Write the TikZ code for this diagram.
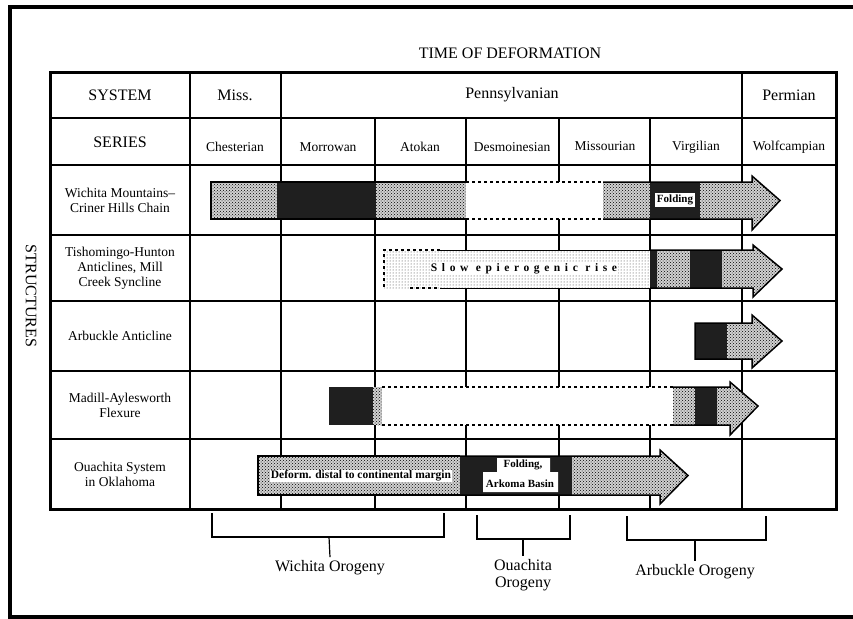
\documentclass[tikz,border=0pt]{standalone}
\usepackage{fontspec}
\setmainfont{Liberation Serif}
\usetikzlibrary{patterns}

\begin{document}
\begin{tikzpicture}[x=1pt, y=-1pt,
	hd/.style={font=\fontsize{16}{17}\selectfont},
	ser/.style={font=\fontsize{13.5}{14}\selectfont},
	struct/.style={align=center, font=\fontsize{13.5}{15}\selectfont},
	tag/.style={font=\bfseries\fontsize{11}{12}\selectfont, inner sep=1.5pt},
	grid/.style={line width=1.3pt},
	bar/.style={line width=1.5pt},
	stip/.style={preaction={fill=black!18}, pattern=crosshatch dots, pattern color=black},
	blk/.style={fill=black!88},
	brace/.style={line width=1.2pt}]
	\useasboundingbox (0,0) rectangle (853,618);
	\draw[line width=4pt] (853,7) -- (10,7) -- (10,617) -- (853,617);
	
	\node[hd] (title) at (510,53) {TIME OF DEFORMATION};
	\node[hd, rotate=-90] (structures) at (31,296) {STRUCTURES};
	
	\draw[grid] (50,118) -- (836,118) (50,165) -- (836,165)
	(50,235) -- (836,235) (50,301) -- (836,301) (50,371) -- (836,371) (50,439) -- (836,439)
	(190,72) -- (190,509) (281,72) -- (281,509) (742,72) -- (742,509)
	(375,118) -- (375,509) (466,118) -- (466,509) (559,118) -- (559,509) (650,118) -- (650,509);
	\draw[line width=3pt] (50,72) rectangle (836,509);
	
	\node[hd] (system) at (120,95) {SYSTEM};
	\node[hd] (miss) at (235,95) {Miss.};
	\node[hd] (penn) at (512,95) {Pennsylvanian};
	\node[hd] (perm) at (789,95) {Permian};
	\node[hd] (series) at (120,142) {SERIES};
	\node[ser] (chest) at (235,147) {Chesterian};
	\node[ser] (morrow) at (328,147) {Morrowan};
	\node[ser] (atok) at (420,147) {Atokan};
	\node[ser] (desm) at (512,147) {Desmoinesian};
	\node[ser] (missour) at (605,146) {Missourian};
	\node[ser] (virg) at (696,147) {Virgilian};
	\node[ser] (wolf) at (789,147) {Wolfcampian};
	
	\node[struct] (wichita) at (120,200) {Wichita Mountains--\\Criner Hills Chain};
	\node[struct] (tisho) at (120,268) {Tishomingo-Hunton\\Anticlines, Mill\\Creek Syncline};
	\node[struct] (arbuckle) at (120,336) {Arbuckle Anticline};
	\node[struct] (madill) at (120,405) {Madill-Aylesworth\\Flexure};
	\node[struct] (ouachita) at (120,474) {Ouachita System\\in Oklahoma};
	
	\path[stip] (211,182) rectangle (277,219);
	\fill[blk] (277,182) rectangle (376,219);
	\path[stip] (376,182) rectangle (466,219);
	\fill[white] (466,182) rectangle (603,219);
	\path[stip] (603,182) rectangle (650,219);
	\fill[blk] (650,182) rectangle (700,219);
	\path[stip] (700,182) -- (752,182) -- (752,176) -- (780,200.5) -- (752,230) -- (752,219) -- (700,219) -- cycle;
	\draw[bar] (466,182) -- (211,182) -- (211,219) -- (466,219);
	\draw[bar, dashed] (466,182) -- (603,182) (466,219) -- (603,219);
	\draw[bar] (603,182) -- (752,182) -- (752,176) -- (780,200.5) -- (752,230) -- (752,219) -- (603,219);
	\node[tag, fill=white] (fold1) at (675,200) {Folding};
	
	\path[preaction={fill=white}, pattern=dots, pattern color=black!80] (384,250) rectangle (650,288);
	\fill[blk] (650,250) rectangle (657,288);
	\path[stip] (657,250) rectangle (690,288);
	\fill[blk] (690,250) rectangle (722,288);
	\path[stip] (722,250) -- (753,250) -- (753,245) -- (782,269) -- (753,297) -- (753,288) -- (722,288) -- cycle;
	\draw[bar, dashed] (440,250) -- (384,250) -- (384,288) (410,288) -- (440,288);
	\draw[line width=0.8pt] (440,250) -- (650,250) (440,288) -- (650,288);
	\draw[bar] (650,250) -- (753,250) -- (753,245) -- (782,269) -- (753,297) -- (753,288) -- (650,288);
	\node[tag, fill=white, inner sep=0.5pt, font=\bfseries\fontsize{11.5}{12}\selectfont\addfontfeature{LetterSpace=40}] (rise) at (524,269) {Slow epierogenic rise};
	
	\fill[blk] (695,323) rectangle (727,359);
	\path[stip] (727,323) -- (752,323) -- (752,315) -- (782,341) -- (752,368) -- (752,359) -- (727,359) -- cycle;
	\draw[bar] (695,323) -- (752,323) -- (752,315) -- (782,341) -- (752,368) -- (752,359) -- (695,359) -- cycle;
	
	\fill[blk] (329,387) rectangle (373,425);
	\path[stip] (373,387) rectangle (382,425);
	\fill[white] (382,387) rectangle (673,425);
	\path[stip] (673,387) rectangle (695,425);
	\fill[blk] (695,387) rectangle (717,425);
	\path[stip] (717,387) -- (730,387) -- (730,382) -- (758,406) -- (730,435) -- (730,425) -- (717,425) -- cycle;
	\draw[bar, dashed] (382,387) -- (673,387) (382,425) -- (673,425);
	\draw[bar] (673,387) -- (730,387) -- (730,382) -- (758,406) -- (730,435) -- (730,425) -- (673,425);
	
	\path[stip] (258,456) rectangle (460,495);
	\fill[blk] (460,456) rectangle (572,495);
	\path[stip] (572,456) -- (660,456) -- (660,450) -- (688,475.5) -- (660,504) -- (660,495) -- (572,495) -- cycle;
	\draw[bar] (460,456) -- (258,456) -- (258,495) -- (460,495);
	\draw[bar] (460,456) -- (660,456) -- (660,450) -- (688,475.5) -- (660,504) -- (660,495) -- (460,495);
	\fill[white] (497,458) -- (550,458) -- (550,472) -- (558,472) -- (558,492) -- (483,492) -- (483,472) -- (497,472) -- cycle;
	\node[tag, fill=white, inner sep=0.5pt, font=\bfseries\fontsize{11.5}{12}\selectfont] (deform) at (361,476) {Deform. distal to continental margin};
	\node[tag] (fold2) at (523,465) {Folding,};
	\node[tag] (arkoma) at (520,484) {Arkoma Basin};
	
	\node[hd] (wor) at (330,568) {Wichita Orogeny};
	\node[hd, align=center] (oor) at (523,575) {Ouachita\\Orogeny};
	\node[hd] (aor) at (695,572) {Arbuckle Orogeny};
	\coordinate (wb) at (329,537);
	\coordinate (ob) at (523,539);
	\coordinate (ab) at (695,540);
	\draw[brace] (212,513) -- (212,537) -- (444,537) -- (444,513);
	\draw[brace] (477,515) -- (477,539) -- (570,539) -- (570,515);
	\draw[brace] (627,516) -- (627,540) -- (766,540) -- (766,516);
	\draw[brace] (wb) -- (wor.north);
	\draw[brace] (ob) -- (oor.north);
	\draw[brace] (ab) -- (aor.north);
\end{tikzpicture}
\end{document}
